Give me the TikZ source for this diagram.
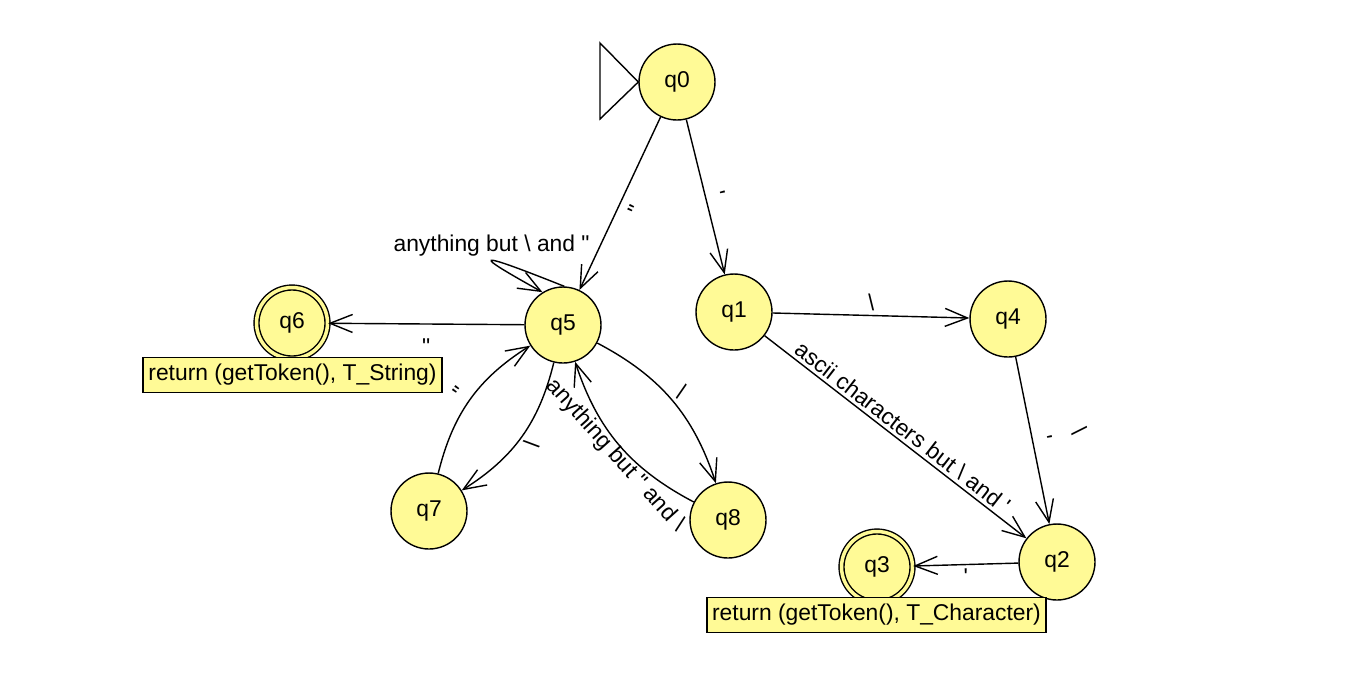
\documentclass[tikz,border=0pt]{standalone}
\usepackage{fontspec}
\setmainfont{Liberation Sans}
\usetikzlibrary{arrows.meta}
\definecolor{stateyellow}{RGB}{255,250,150}
\tikzset{
  state/.style={circle, draw, fill=stateyellow, minimum size=1.52cm, inner sep=0pt, line width=0.8pt},
  accepting/.style={state, minimum size=1.42cm, double=stateyellow, double distance=0.07cm},
  outbox/.style={draw, fill=stateyellow, line width=0.8pt, minimum height=0.7cm, inner xsep=3pt},
  trans/.style={-{Straight Barb[length=0.45cm, width=0.36cm]}, line width=0.8pt},
  lbl/.style={inner sep=2pt}
}

\begin{document}
\begin{tikzpicture}[x=0.02cm, y=0.02cm, font=\fontsize{13}{15}\selectfont]

        \useasboundingbox (0,0) rectangle (1355,-691);

        % States
        \node[state] (q0) at (677,-82) {q0};
        \node[state] (q1) at (734,-312) {q1};
        \node[state] (q4) at (1008,-319) {q4};
        \node[state] (q2) at (1057,-562) {q2};
        \node[state] (q5) at (563,-325) {q5};
        \node[state] (q7) at (429,-511) {q7};
        \node[state] (q8) at (728,-520) {q8};
        \node[accepting] (q6) at (292,-323) {q6};
        \node[accepting] (q3) at (877,-567) {q3};

        % Outputs of the final states
        \node[outbox] (q6out) at (292.5,-375) {return (getToken(), T\_String)};
        \node[outbox] (q3out) at (876.5,-615) {return (getToken(), T\_Character)};

        % Start marker
        \draw[line width=0.8pt, fill=white] (600,-43) -- (600,-119) -- (q0.west) -- cycle;

        % Character branch
        \draw[trans] (q0) -- node[lbl, sloped, above] {\textquotesingle} (q1);
        \draw[trans] (q1) -- node[lbl, sloped, above] {\textbackslash} (q4);
        \draw[trans] (q1) -- node[lbl, sloped, above] {ascii characters but \textbackslash\ and \textquotesingle} (q2);
        \draw[trans] (q4) -- node[lbl, sloped, above] {\textquotesingle}
                             node[lbl, sloped, above=20] {\textbackslash} (q2);
        \draw[trans] (q2) -- node[lbl, below] {\textquotesingle} (q3);

        % String branch
        \draw[trans] (q0) -- node[lbl, sloped, below=3pt] {\textquotedbl} (q5);
        \draw[trans] (q5) -- node[lbl, below=6] {\textquotedbl} (q6);
        \draw[trans] (q5.88) .. controls (468,-248) and (474,-254) .. node[lbl, above] {anything but \textbackslash\ and \textquotedbl} (q5.122);
        \draw[trans] (q5) to[bend left=22] node[lbl, sloped, below] {\textbackslash} (q7);
        \draw[trans] (q7) to[bend left=22] node[lbl, sloped, above] {\textquotedbl} (q5);
        \draw[trans] (q5) to[bend left=22] node[lbl, sloped, above] {\textbackslash} (q8);
        \draw[trans] (q8) to[bend left=22] node[lbl, sloped, below=-3pt, pos=0.47] {anything but \textquotedbl\ and \textbackslash} (q5);

      \end{tikzpicture}
\end{document}
